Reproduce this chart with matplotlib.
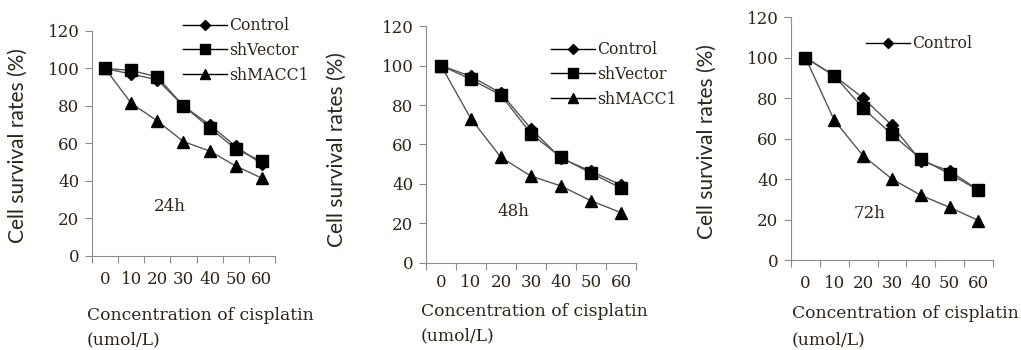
import numpy as np
import matplotlib
matplotlib.use("Agg")
import matplotlib.pyplot as plt

conc = ["0", "10", "20", "30", "40", "50", "60"]

ctrl_24 = [100, 97, 94, 80, 70, 58.5, 49]
vec_24 = [100, 99, 95.5, 80, 68.5, 57, 50.5]
macc_24 = [100, 81.5, 72, 61, 56, 48, 41.5]

ctrl_48 = [100, 94.5, 86, 68, 53, 46.5, 39.5]
vec_48 = [100, 93, 85, 65.5, 53.5, 45.5, 38]
macc_48 = [100, 73, 53.5, 44, 39, 31.5, 25.5]

ctrl_72 = [100, 91, 80, 66.5, 49, 44, 34.5]
vec_72 = [100, 91, 75, 62, 50, 42.5, 34.5]
macc_72 = [100, 69, 51.5, 40, 32, 26, 19.5]

tick_col = "#2e2418"
spine_col = "#8c8c8c"
line_col = "#555555"
serif = "DejaVu Serif"
sans = "Lato"

plt.rcParams["font.family"] = serif

W, H = 1021, 350
fig = plt.figure(figsize=(W / 100, H / 100), dpi=100)

panels = [
    dict(rect=[0.0901, 0.2686, 0.1792, 0.6429], data=(ctrl_24, vec_24, macc_24), tag="24h",
         tagpos=(0.426, 0.218), ylab=(18, 146), xlab=(87, 315, 340),
         leg=(183, 17), n_leg=3, xpad=11),
    dict(rect=[0.4172, 0.2486, 0.2057, 0.6771], data=(ctrl_48, vec_48, macc_48), tag="48h",
         tagpos=(0.414, 0.219), ylab=(337, 150), xlab=(421, 311, 336),
         leg=(551, 41), n_leg=3, xpad=8),
    dict(rect=[0.7747, 0.2571, 0.1978, 0.6943], data=(ctrl_72, vec_72, macc_72), tag="72h",
         tagpos=(0.391, 0.193), ylab=(707, 142), xlab=(792, 313, 340),
         leg=(866, 35), n_leg=1, xpad=11),
]

for p in panels:
    ax = fig.add_axes(p["rect"])
    x = np.arange(len(conc))
    ctrl, vec, macc = p["data"]
    h1, = ax.plot(x, ctrl, color=line_col, lw=1.0, marker="D", ms=6, mfc="black", mec="black", label="Control")
    h2, = ax.plot(x, vec, color=line_col, lw=1.0, marker="s", ms=8, mfc="black", mec="black", label="shVector")
    h3, = ax.plot(x, macc, color=line_col, lw=1.0, marker="^", ms=8, mfc="black", mec="black", label="shMACC1")

    ax.set_xlim(-0.5, len(conc) - 0.5)
    ax.set_ylim(0, 120)
    ax.set_yticks(range(0, 121, 20))
    ax.set_xticks(x)
    ax.set_xticklabels(conc)
    ax.set_xticks(np.arange(-0.5, len(conc), 1.0), minor=True)
    ax.tick_params(axis="x", which="major", length=0, pad=p["xpad"], labelsize=12, labelcolor=tick_col)
    ax.tick_params(axis="x", which="minor", length=5, width=0.8, color=spine_col, direction="out")
    ax.tick_params(axis="y", length=5, width=0.8, color=spine_col, pad=4, labelsize=12, labelcolor=tick_col)
    for s in ["top", "right"]:
        ax.spines[s].set_visible(False)
    for s in ["left", "bottom"]:
        ax.spines[s].set_color(spine_col)
        ax.spines[s].set_linewidth(0.8)

    ax.text(p["tagpos"][0], p["tagpos"][1], p["tag"], transform=ax.transAxes, ha="center", va="center",
            fontsize=12, color=tick_col)

    fig.text(p["ylab"][0] / W, 1 - p["ylab"][1] / H, "Cell survival rates (%)", rotation=90,
             ha="center", va="center", fontsize=15, family=sans, color=tick_col)
    xl, y1, y2 = p["xlab"]
    fig.text(xl / W, 1 - y1 / H, "Concentration of cisplatin", ha="left", va="center",
             fontsize=12.3, color=tick_col)
    fig.text(xl / W, 1 - y2 / H, "(umol/L)", ha="left", va="center", fontsize=12.3, color=tick_col)

    handles = [h1, h2, h3][:p["n_leg"]]
    leg_handles = []
    for h in handles:
        l, = ax.plot([], [], color="black", lw=1.0, marker=h.get_marker(), ms=h.get_markersize() - 1,
                     mfc="black", mec="black", label=h.get_label())
        leg_handles.append(l)
    leg = ax.legend(handles=leg_handles, loc="upper left",
                    bbox_to_anchor=(p["leg"][0] / W, 1 - p["leg"][1] / H),
                    bbox_transform=fig.transFigure, frameon=False, borderpad=0, borderaxespad=0,
                    handlelength=2.8, handletextpad=0.15, labelspacing=0.5,
                    prop={"family": serif, "size": 11.3})
    for t in leg.get_texts():
        t.set_color(tick_col)

fig.savefig("out.png", dpi=100)
